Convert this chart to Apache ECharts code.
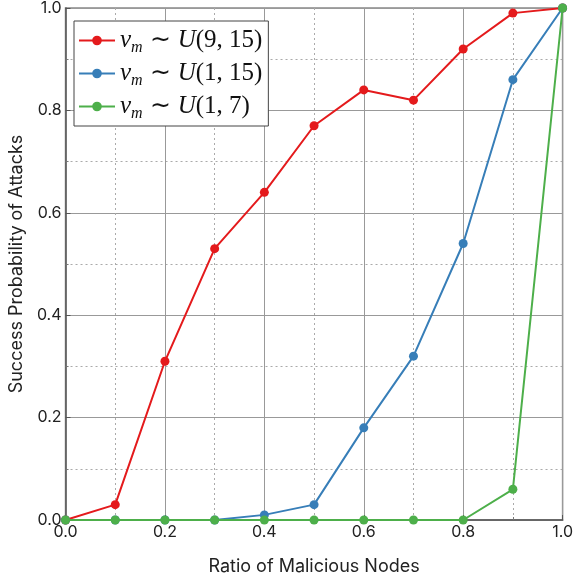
<!DOCTYPE html>
<html>
<head>
<meta charset="utf-8">
<script src="https://cdn.jsdelivr.net/npm/echarts@6/dist/echarts.min.js"></script>
<style>
  html, body { margin: 0; padding: 0; background: #fff; }
  #chart { width: 576px; height: 581px; }
</style>
</head>
<body>
<div id="chart"></div>
<script>
// ratio of malicious nodes
const ratios = [0, 0.1, 0.2, 0.3, 0.4, 0.5, 0.6, 0.7, 0.8, 0.9, 1.0]
// success probability per distribution of v_m
const probU9to15 = [0, 0.03, 0.31, 0.53, 0.64, 0.77, 0.84, 0.82, 0.92, 0.99, 1.0]
const probU1to15 = [0, 0, 0, 0, 0.01, 0.03, 0.18, 0.32, 0.54, 0.86, 1.0]
const probU1to7 = [0, 0, 0, 0, 0, 0, 0, 0, 0, 0.06, 1.0]
const seriesNames = ['(9, 15)', '(1, 15)', '(1, 7)']
const colors = ['#e41a1c', '#377eb8', '#4daf4a']

const font = 'Inter, sans-serif'
const serif = 'Liberation Serif'
const chart = echarts.init(document.getElementById('chart'))

function pairs(ys) {
  return ratios.map((x, i) => [x, ys[i]])
}

function valueAxis(name, nameGap, rotate) {
  return {
    type: 'value',
    min: 0,
    max: 1,
    interval: 0.2,
    name: name,
    nameLocation: 'middle',
    nameGap: nameGap,
    nameRotate: rotate,
    nameTextStyle: { fontFamily: font, fontSize: 18, color: '#222' },
    axisLine: { show: true, onZero: false, lineStyle: { color: '#555', width: 1.5 } },
    axisTick: { show: true, inside: true, length: 5, lineStyle: { color: '#555' } },
    minorTick: { show: true, splitNumber: 2, length: 3, lineStyle: { color: '#777' } },
    axisLabel: {
      fontFamily: font, fontSize: 16, color: '#222', margin: 4,
      formatter: v => v.toFixed(1)
    },
    splitLine: { show: true, lineStyle: { color: '#999', width: 1 } },
    minorSplitLine: { show: true, lineStyle: { color: '#aaa', type: [2, 3], width: 1 } }
  }
}

const seriesData = [probU9to15, probU1to15, probU1to7]

chart.setOption({
  animation: false,
  grid: {
    left: 60, right: 10, top: 7, bottom: 60,
    show: true, borderColor: '#888', borderWidth: 1.5
  },
  legend: {
    orient: 'vertical',
    left: 74,
    top: 21,
    padding: [4, 6, 4, 4],
    itemGap: 2,
    itemWidth: 36,
    itemHeight: 12,
    backgroundColor: '#fff',
    borderColor: '#444',
    borderWidth: 1,
    borderRadius: 0,
    data: seriesNames,
    formatter: name => '{i|v}{s|m}{t|∼}{i|U}{r|' + name + '}',
    textStyle: {
      lineHeight: 31,
      rich: {
        i: { fontFamily: serif, fontStyle: 'italic', fontSize: 25, color: '#111', lineHeight: 31 },
        s: { fontFamily: serif, fontStyle: 'italic', fontSize: 16, color: '#111', lineHeight: 31, verticalAlign: 'bottom', padding: [12, 0, 0, 0] },
        t: { fontFamily: serif, fontSize: 25, color: '#111', lineHeight: 31, padding: [0, 7, 0, 7] },
        r: { fontFamily: serif, fontSize: 25, color: '#111', lineHeight: 31 }
      }
    }
  },
  xAxis: valueAxis('Ratio of Malicious Nodes', 38, 0),
  yAxis: valueAxis('Success Probability of Attacks', 32, 90),
  series: seriesData.map((ys, i) => ({
    name: seriesNames[i],
    type: 'line',
    data: pairs(ys),
    symbol: 'circle',
    symbolSize: 9,
    z: 3 + i,
    lineStyle: { color: colors[i], width: 2 },
    itemStyle: { color: colors[i] }
  }))
})
</script>
</body>
</html>
